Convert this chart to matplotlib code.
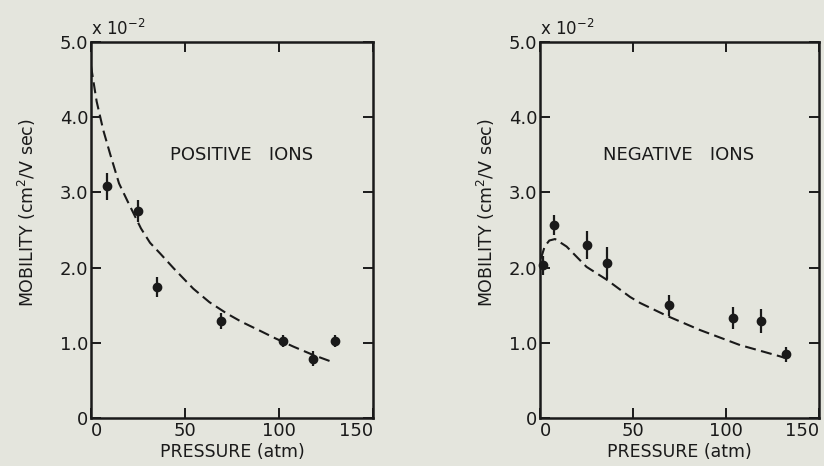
import matplotlib
matplotlib.use("Agg")
import matplotlib.pyplot as plt

# ---- data (mobility in units of 1e-2 cm^2/V sec) ----
pos_p = [8.3, 24.8, 35.3, 69.1, 102.3, 117.9, 130.0]
pos_mu = [3.08, 2.75, 1.74, 1.29, 1.03, 0.79, 1.02]
pos_err = [0.18, 0.15, 0.13, 0.10, 0.08, 0.10, 0.08]

pos_fit_p = [0.0, 3.0, 6.5, 10.3, 14.9, 19.5, 26.6, 31.4, 36.7, 44.0, 54.4, 63.0,
             72.2, 80.0, 89.9, 98.0, 107.6, 118.0, 128.9]
pos_fit_mu = [4.68, 4.21, 3.83, 3.50, 3.12, 2.88, 2.52, 2.33, 2.19, 1.99, 1.72, 1.54,
              1.39, 1.28, 1.16, 1.06, 0.95, 0.84, 0.74]

neg_p = [1.4, 7.5, 25.1, 35.8, 69.5, 103.6, 118.7, 132.0]
neg_mu = [2.03, 2.57, 2.30, 2.06, 1.50, 1.33, 1.29, 0.85]
neg_err = [0.13, 0.13, 0.19, 0.21, 0.14, 0.14, 0.16, 0.10]

neg_fit_p = [0.5, 2.5, 5.0, 8.1, 14.3, 25.0, 35.8, 48.4, 53.8, 68.1, 86.0, 107.5, 129.0, 131.5]
neg_fit_mu = [2.12, 2.28, 2.36, 2.38, 2.28, 2.01, 1.84, 1.61, 1.53, 1.36, 1.17, 0.97, 0.82, 0.80]

x_ticks = [0, 50, 100, 150]
x_ticklabels = ["0", "50", "100", "150"]
y_ticks = [0, 1, 2, 3, 4, 5]
y_ticklabels = ["0", "1.0", "2.0", "3.0", "4.0", "5.0"]

panels = [
    ("POSITIVE   IONS", pos_p, pos_mu, pos_err, pos_fit_p, pos_fit_mu),
    ("NEGATIVE   IONS", neg_p, neg_mu, neg_err, neg_fit_p, neg_fit_mu),
]

bg = "#e4e5dd"
ink = "#1a1a1a"
plt.rcParams["font.family"] = ["DejaVu Sans"]

fig = plt.figure(figsize=(8.24, 4.66), dpi=100, facecolor=bg)
rects = [
    [91 / 824, 1 - 418 / 466, 282 / 824, 376 / 466],
    [540 / 824, 1 - 418 / 466, 279 / 824, 376 / 466],
]
ylabel_x = [-0.188, -0.154]
title_x = [0.535, 0.497]

for i, (rect, (title, px, mu, err, fx, fy)) in enumerate(zip(rects, panels)):
    ax = fig.add_axes(rect, facecolor=bg)
    ax.set_xlim(0, 150)
    ax.set_ylim(0, 5)
    ax.plot(fx, fy, color=ink, lw=1.5, linestyle=(0, (5.3, 2.6)))
    ax.errorbar(px, mu, yerr=err, fmt="o", color=ink, ms=6,
                elinewidth=1.6, capsize=0, zorder=3, clip_on=False)
    for s in ax.spines.values():
        s.set_linewidth(1.8)
        s.set_color(ink)
    ax.set_xticks(x_ticks)
    xl = ax.set_xticklabels(x_ticklabels)
    xl[0].set_ha("left")
    xl[-1].set_ha("right")
    ax.set_yticks(y_ticks)
    ax.set_yticklabels(y_ticklabels)
    ax.tick_params(direction="in", length=7, width=1.4, color=ink,
                   labelsize=13, labelcolor=ink, top=True, right=True)
    ax.tick_params(axis="y", pad=2)
    ax.tick_params(axis="x", pad=3)
    ax.set_xlabel("PRESSURE (atm)", fontsize=12.5, color=ink, labelpad=2)
    ax.set_ylabel(r"MOBILITY (cm$^2$/V sec)", fontsize=12.5, color=ink)
    ax.yaxis.set_label_coords(ylabel_x[i], 0.545)
    ax.text(0.0, 1.018, r"x 10$^{-2}$", transform=ax.transAxes, fontsize=12,
            color=ink, ha="left", va="baseline")
    ax.text(title_x[i], 0.70, title, transform=ax.transAxes, fontsize=13,
            color=ink, ha="center", va="center")

fig.savefig("out.png", dpi=100, facecolor=bg)
